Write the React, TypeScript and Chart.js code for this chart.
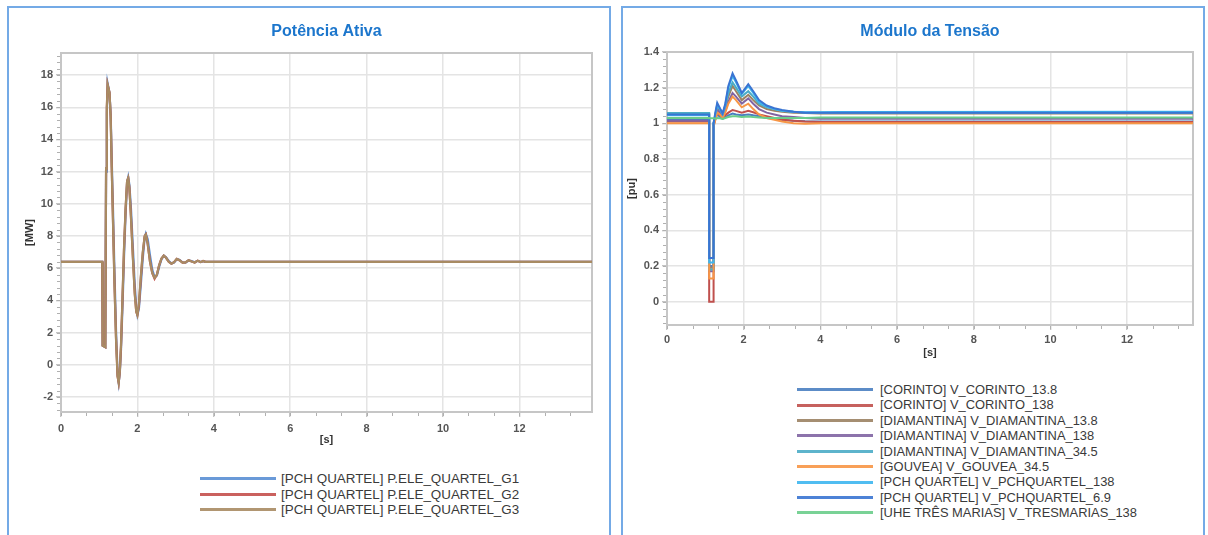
import React, { useEffect, useRef } from "react";
import { Chart, registerables } from "chart.js";

Chart.register(...registerables);

const FONT = "'Liberation Sans', Arial, Helvetica, sans-serif";

// ---------------- Potência Ativa (left) ----------------
const P_TITLE = "Potência Ativa";
const P_LABELS = [
  "[PCH QUARTEL] P.ELE_QUARTEL_G1",
  "[PCH QUARTEL] P.ELE_QUARTEL_G2",
  "[PCH QUARTEL] P.ELE_QUARTEL_G3",
];
const P_COLORS = ["#5a8fd4", "#c4504d", "#a88b63"];
const P_X_TICKS = [0, 2, 4, 6, 8, 10, 12];
const P_Y_TICKS = [-2, 0, 2, 4, 6, 8, 10, 12, 14, 16, 18];

const P_TIME = [
  0, 1.08, 1.09, 1.16, 1.18, 1.2, 1.22, 1.27, 1.3, 1.33, 1.36, 1.4, 1.44, 1.48,
  1.51, 1.54, 1.57, 1.61, 1.65, 1.69, 1.73, 1.76, 1.79, 1.83, 1.88, 1.93, 1.97,
  2.0, 2.04, 2.09, 2.14, 2.19, 2.22, 2.27, 2.33, 2.39, 2.45, 2.51, 2.57, 2.63,
  2.69, 2.75, 2.82, 2.89, 2.96, 3.03, 3.1, 3.18, 3.26, 3.34, 3.42, 3.5, 3.58,
  3.66, 3.72, 3.78, 13.9,
];
const P_G1 = [
  6.4, 6.4, 1.2, 1.1, 12.0, 15.6, 17.5, 16.9, 15.6, 12.6, 9.8, 5.8, 2.2, -0.5,
  -1.1, -0.5, 0.9, 3.6, 6.7, 9.3, 11.3, 11.65, 11.2, 9.8, 7.4, 5.0, 3.6, 3.1,
  3.5, 5.0, 6.6, 7.9, 8.15, 7.8, 6.8, 5.9, 5.45, 5.55, 6.1, 6.55, 6.78, 6.68,
  6.45, 6.3, 6.36, 6.56, 6.52, 6.37, 6.35, 6.48, 6.44, 6.37, 6.46, 6.39, 6.44,
  6.4, 6.4,
];
const P_G2 = [
  6.4, 6.4, 1.2, 1.1, 12.2, 16.0, 17.4, 16.9, 15.4, 12.1, 9.1, 5.1, 1.7, -0.7,
  -1.1, -0.4, 1.1, 4.1, 7.2, 9.6, 11.4, 11.6, 11.0, 9.3, 6.8, 4.5, 3.3, 3.1,
  3.7, 5.4, 6.9, 8.0, 8.1, 7.5, 6.4, 5.7, 5.35, 5.6, 6.2, 6.6, 6.78, 6.65, 6.4,
  6.28, 6.38, 6.58, 6.5, 6.35, 6.36, 6.5, 6.42, 6.36, 6.47, 6.38, 6.45, 6.4,
  6.4,
];
const P_G3 = [
  6.4, 6.4, 1.2, 1.1, 12.2, 16.0, 17.4, 16.9, 15.4, 12.0, 9.0, 5.0, 1.6, -0.7,
  -1.1, -0.4, 1.2, 4.2, 7.3, 9.7, 11.4, 11.6, 11.0, 9.2, 6.7, 4.4, 3.3, 3.1,
  3.8, 5.5, 7.0, 8.0, 8.1, 7.5, 6.4, 5.7, 5.4, 5.6, 6.2, 6.6, 6.78, 6.65, 6.4,
  6.28, 6.38, 6.58, 6.5, 6.35, 6.36, 6.5, 6.42, 6.36, 6.47, 6.38, 6.45, 6.4,
  6.4,
];
const P_SERIES = [P_G1, P_G2, P_G3];

// ---------------- Módulo da Tensão (right) ----------------
const V_TITLE = "Módulo da Tensão";
const V_LABELS = [
  "[CORINTO] V_CORINTO_13.8",
  "[CORINTO] V_CORINTO_138",
  "[DIAMANTINA] V_DIAMANTINA_13.8",
  "[DIAMANTINA] V_DIAMANTINA_138",
  "[DIAMANTINA] V_DIAMANTINA_34.5",
  "[GOUVEA] V_GOUVEA_34.5",
  "[PCH QUARTEL] V_PCHQUARTEL_138",
  "[PCH QUARTEL] V_PCHQUARTEL_6.9",
  "[UHE TRÊS MARIAS] V_TRESMARIAS_138",
];
const V_COLORS = [
  "#4a7fc1",
  "#c0504d",
  "#9b8263",
  "#8064a2",
  "#4bacc6",
  "#f79646",
  "#3db6f0",
  "#3a74d2",
  "#6acd8b",
];
const V_X_TICKS = [0, 2, 4, 6, 8, 10, 12];
const V_Y_TICKS = [0, 0.2, 0.4, 0.6, 0.8, 1, 1.2, 1.4];

const V_TIME = [
  0, 1.1, 1.1, 1.215, 1.215, 1.26, 1.31, 1.38, 1.45, 1.52, 1.6, 1.71, 1.8,
  1.95, 2.12, 2.25, 2.4, 2.6, 2.8, 3.0, 3.3, 3.6, 4.0, 4.5, 13.72,
];
const V_CORINTO_13_8 = [
  1.02, 1.02, 0.2, 0.2, 1.0, 1.03, 1.05, 1.035, 1.025, 1.035, 1.045, 1.055,
  1.05, 1.045, 1.05, 1.045, 1.04, 1.03, 1.025, 1.02, 1.015, 1.012, 1.01, 1.01,
  1.01,
];
const V_CORINTO_138 = [
  1.01, 1.01, 0.0, 0.0, 0.99, 1.02, 1.06, 1.045, 1.035, 1.045, 1.06, 1.075,
  1.07, 1.06, 1.07, 1.062, 1.05, 1.04, 1.03, 1.02, 1.015, 1.01, 1.008, 1.008,
  1.008,
];
const V_DIAMANTINA_13_8 = [
  1.052, 1.052, 0.19, 0.19, 1.0, 1.04, 1.09, 1.07, 1.05, 1.09, 1.15, 1.21,
  1.18, 1.13, 1.16, 1.13, 1.1, 1.08, 1.07, 1.065, 1.06, 1.058, 1.055, 1.055,
  1.055,
];
const V_DIAMANTINA_138 = [
  1.015, 1.015, 0.17, 0.17, 0.99, 1.03, 1.08, 1.06, 1.04, 1.07, 1.12, 1.17,
  1.15, 1.11, 1.14, 1.11, 1.08, 1.06, 1.05, 1.04, 1.035, 1.03, 1.025, 1.025,
  1.025,
];
const V_DIAMANTINA_34_5 = [
  1.058, 1.058, 0.18, 0.18, 1.0, 1.045, 1.1, 1.08, 1.055, 1.1, 1.17, 1.23, 1.2,
  1.15, 1.18, 1.15, 1.11, 1.09, 1.08, 1.07, 1.065, 1.06, 1.06, 1.06, 1.06,
];
const V_GOUVEA_34_5 = [
  1.0, 1.0, 0.13, 0.13, 0.98, 1.02, 1.06, 1.05, 1.03, 1.06, 1.11, 1.15, 1.13,
  1.09, 1.11, 1.08, 1.05, 1.03, 1.02, 1.01, 1.0, 0.998, 1.0, 1.0, 1.0,
];
const V_PCHQUARTEL_138 = [
  1.045, 1.045, 0.22, 0.22, 1.0, 1.05, 1.105, 1.08, 1.05, 1.1, 1.2, 1.265,
  1.23, 1.165, 1.21, 1.17, 1.12, 1.095, 1.08, 1.07, 1.065, 1.062, 1.062, 1.064,
  1.065,
];
const V_PCHQUARTEL_6_9 = [
  1.05, 1.05, 0.245, 0.245, 1.0, 1.06, 1.115, 1.085, 1.055, 1.11, 1.21, 1.28,
  1.24, 1.17, 1.22, 1.18, 1.13, 1.1, 1.085, 1.075, 1.065, 1.06, 1.06, 1.06,
  1.06,
];
const V_TRESMARIAS_138 = [
  1.03, 1.03, 1.028, 1.028, 1.028, 1.026, 1.03, 1.028, 1.025, 1.03, 1.035,
  1.04, 1.04, 1.035, 1.038, 1.035, 1.033, 1.03, 1.03, 1.03, 1.03, 1.03, 1.032,
  1.032, 1.032,
];
const V_SERIES = [
  V_CORINTO_13_8,
  V_CORINTO_138,
  V_DIAMANTINA_13_8,
  V_DIAMANTINA_138,
  V_DIAMANTINA_34_5,
  V_GOUVEA_34_5,
  V_PCHQUARTEL_138,
  V_PCHQUARTEL_6_9,
  V_TRESMARIAS_138,
];

// ---------------- plugin: plot frame + minor ticks ----------------
const decorPlugin = {
  id: "decor",
  beforeDatasetsDraw(chart: any, _a: any, opts: any) {
    const { ctx, chartArea: ca } = chart;
    ctx.save();
    ctx.strokeStyle = opts.frameColor;
    ctx.lineWidth = 2;
    ctx.strokeRect(ca.left, ca.top, ca.right - ca.left, ca.bottom - ca.top);
    ctx.restore();
  },
  afterDraw(chart: any, _a: any, opts: any) {
    const { ctx, chartArea: ca, scales } = chart;
    const x = scales.x;
    const y = scales.y;
    ctx.save();
    ctx.strokeStyle = opts.tickColor;
    ctx.lineWidth = 1;
    ctx.beginPath();
    const xi0 = Math.ceil(x.min / opts.xStep - 1e-6);
    const xi1 = Math.floor(x.max / opts.xStep + 1e-6);
    for (let i = xi0; i <= xi1; i++) {
      const px = Math.round(x.getPixelForValue(i * opts.xStep)) + 0.5;
      ctx.moveTo(px, ca.bottom + 1);
      ctx.lineTo(px, ca.bottom + 4);
    }
    const yi0 = Math.ceil(y.min / opts.yStep - 1e-6);
    const yi1 = Math.floor(y.max / opts.yStep + 1e-6);
    for (let i = yi0; i <= yi1; i++) {
      const py = Math.round(y.getPixelForValue(i * opts.yStep)) + 0.5;
      ctx.moveTo(ca.left - 4, py);
      ctx.lineTo(ca.left - 1, py);
    }
    ctx.stroke();
    ctx.restore();
  },
};

type Cfg = {
  time: number[];
  series: number[][];
  labels: string[];
  colors: string[];
  widths: number[];
  xMax: number;
  yMin: number;
  yMax: number;
  xTicks: number[];
  yTicks: number[];
  title: string;
  yTitle: string;
  yAxisWidth: number;
  xAxisHeight: number;
  padRight: number;
  titlePadTop: number;
  titlePadBottom: number;
  yTitlePad: number;
  xTitlePad: number;
  xTickPad: number;
  xStep: number;
  yStep: number;
};

function buildConfig(c: Cfg): any {
  const n = c.series.length;
  const tickFont = { family: FONT, size: 11, weight: "bold" as const };
  const titleFont = { family: FONT, size: 11, weight: "bold" as const };
  return {
    type: "line",
    data: {
      datasets: c.series.map((vals, i) => ({
        label: c.labels[i],
        data: c.time.map((t, k) => ({ x: t, y: vals[k] })),
        borderColor: c.colors[i],
        backgroundColor: c.colors[i],
        borderWidth: c.widths[i],
        pointRadius: 0,
        fill: false,
        tension: 0,
        order: n - i,
      })),
    },
    options: {
      responsive: false,
      animation: false,
      devicePixelRatio: 1,
      layout: {
        autoPadding: false,
        padding: { top: 0, left: 0, right: c.padRight, bottom: 0 },
      },
      plugins: {
        legend: { display: false },
        tooltip: { enabled: false },
        title: {
          display: true,
          text: c.title,
          color: "#1c76cc",
          font: { family: FONT, size: 16, weight: "bold" },
          padding: { top: c.titlePadTop, bottom: c.titlePadBottom },
          fullSize: false,
        },
        decor: {
          frameColor: "#c6c6c6",
          tickColor: "#b0b0b0",
          xStep: c.xStep,
          yStep: c.yStep,
        },
      },
      scales: {
        x: {
          type: "linear",
          min: 0,
          max: c.xMax,
          afterBuildTicks: (s: any) => {
            s.ticks = c.xTicks.map((v) => ({ value: v }));
          },
          afterFit: (s: any) => {
            s.height = c.xAxisHeight;
          },
          grid: {
            color: "#e4e4e4",
            lineWidth: 1.5,
            drawTicks: true,
            tickLength: 5,
            tickColor: "#b0b0b0",
            tickWidth: 1,
          },
          border: { display: false },
          ticks: {
            color: "#555",
            font: tickFont,
            padding: c.xTickPad,
            maxRotation: 0,
            autoSkip: false,
            callback: (v: any) => String(v),
          },
          title: {
            display: true,
            text: "[s]",
            color: "#333",
            font: titleFont,
            padding: { top: 0, bottom: c.xTitlePad },
          },
        },
        y: {
          type: "linear",
          min: c.yMin,
          max: c.yMax,
          afterBuildTicks: (s: any) => {
            s.ticks = c.yTicks.map((v) => ({ value: v }));
          },
          afterFit: (s: any) => {
            s.width = c.yAxisWidth;
          },
          grid: {
            color: "#e4e4e4",
            lineWidth: 1.5,
            drawTicks: true,
            tickLength: 5,
            tickColor: "#b0b0b0",
            tickWidth: 1,
          },
          border: { display: false },
          ticks: {
            color: "#555",
            font: tickFont,
            padding: 3,
            autoSkip: false,
            callback: (v: any) => String(v),
          },
          title: {
            display: true,
            text: c.yTitle,
            color: "#333",
            font: titleFont,
            padding: { top: c.yTitlePad, bottom: 0 },
          },
        },
      },
    },
    plugins: [decorPlugin],
  };
}

function ChartCanvas(props: {
  left: number;
  top: number;
  width: number;
  height: number;
  cfg: Cfg;
}) {
  const ref = useRef<HTMLCanvasElement | null>(null);
  useEffect(() => {
    if (!ref.current) return;
    const chart = new Chart(ref.current, buildConfig(props.cfg));
    return () => chart.destroy();
  }, []);
  return (
    <canvas
      ref={ref}
      width={props.width}
      height={props.height}
      style={{
        position: "absolute",
        left: props.left,
        top: props.top,
        width: props.width,
        height: props.height,
        display: "block",
      }}
    />
  );
}

function Legend(props: {
  left: number;
  top: number;
  rowH: number;
  fontSize: number;
  gap: number;
  labels: string[];
  colors: string[];
}) {
  return (
    <div style={{ position: "absolute", left: props.left, top: props.top }}>
      {props.labels.map((lab, i) => (
        <div
          key={lab}
          style={{
            position: "absolute",
            left: 0,
            top: i * props.rowH,
            height: props.rowH,
            display: "flex",
            alignItems: "center",
            whiteSpace: "nowrap",
          }}
        >
          <span
            style={{
              display: "inline-block",
              width: 76,
              height: 3,
              background: props.colors[i],
              opacity: 0.9,
              marginRight: props.gap,
            }}
          />
          <span
            style={{
              fontFamily: FONT,
              fontSize: props.fontSize,
              color: "#3a3a3a",
              lineHeight: `${props.rowH}px`,
            }}
          >
            {lab}
          </span>
        </div>
      ))}
    </div>
  );
}

const leftCfg: Cfg = {
  time: P_TIME,
  series: P_SERIES,
  labels: P_LABELS,
  colors: P_COLORS,
  widths: [2.2, 2.2, 2.2],
  xMax: 13.9,
  yMin: -2.93,
  yMax: 19.37,
  xTicks: P_X_TICKS,
  yTicks: P_Y_TICKS,
  title: P_TITLE,
  yTitle: "[MW]",
  yAxisWidth: 52,
  xAxisHeight: 46,
  padRight: 15,
  titlePadTop: 14.4,
  titlePadBottom: 11.4,
  yTitlePad: 14.4,
  xTitlePad: 11.4,
  xTickPad: 5,
  xStep: 2 / 3,
  yStep: 0.4,
};

const rightCfg: Cfg = {
  time: V_TIME,
  series: V_SERIES,
  labels: V_LABELS,
  colors: V_COLORS,
  widths: [2, 2, 2, 2, 2, 2, 2, 2, 2],
  xMax: 13.72,
  yMin: -0.131,
  yMax: 1.4,
  xTicks: V_X_TICKS,
  yTicks: V_Y_TICKS,
  title: V_TITLE,
  yTitle: "[pu]",
  yAxisWidth: 44,
  xAxisHeight: 48,
  padRight: 10,
  titlePadTop: 14.4,
  titlePadBottom: 10.4,
  yTitlePad: 2.4,
  xTitlePad: 13.4,
  xTickPad: 3,
  xStep: 2 / 3,
  yStep: 0.04,
};

export default function App() {
  return (
    <div
      style={{
        position: "absolute",
        left: 0,
        top: 0,
        width: 1208,
        height: 535,
        overflow: "hidden",
        background: "#ffffff",
      }}
    >
      <div
        style={{
          position: "absolute",
          left: 7,
          top: 6,
          width: 604,
          height: 531,
          border: "2px solid #74aae6",
          boxSizing: "border-box",
        }}
      />
      <div
        style={{
          position: "absolute",
          left: 621,
          top: 6,
          width: 584,
          height: 531,
          border: "2px solid #74aae6",
          boxSizing: "border-box",
        }}
      />
      <ChartCanvas left={9} top={8} width={598} height={450} cfg={leftCfg} />
      <ChartCanvas left={623} top={8} width={580} height={365} cfg={rightCfg} />
      <Legend
        left={200}
        top={471}
        rowH={15.5}
        fontSize={13.4}
        gap={5}
        labels={P_LABELS}
        colors={P_COLORS}
      />
      <Legend
        left={797}
        top={382}
        rowH={15.4}
        fontSize={12.9}
        gap={7}
        labels={V_LABELS}
        colors={V_COLORS}
      />
    </div>
  );
}
